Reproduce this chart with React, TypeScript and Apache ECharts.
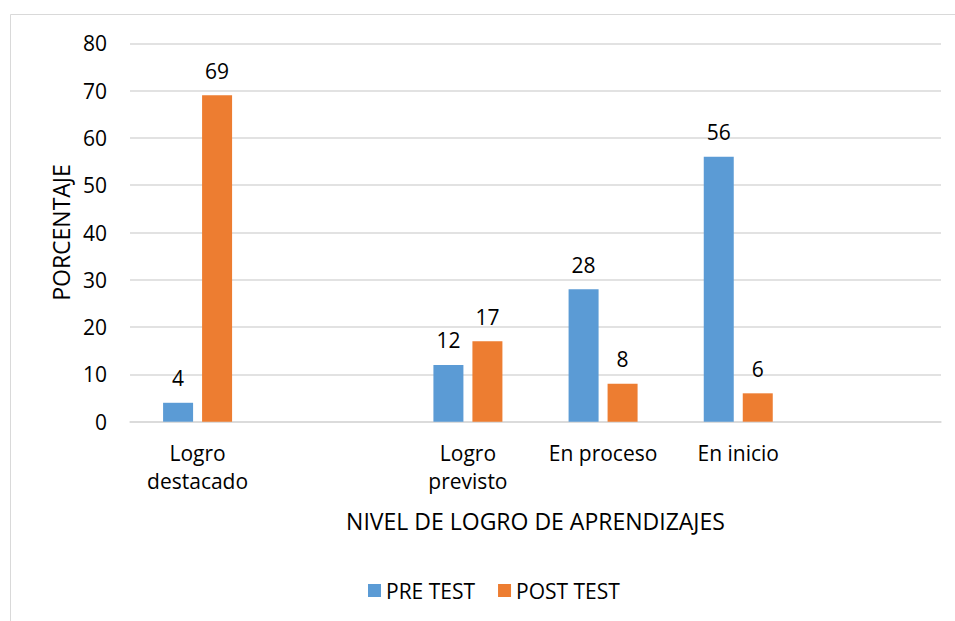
import React, { useEffect, useRef } from "react";
import * as echarts from "echarts";

const categories = ["Logro\ndestacado", "", "Logro\nprevisto", "En proceso", "En inicio", ""];
const preTest = [4, null, 12, 28, 56, null];
const postTest = [69, null, 17, 8, 6, null];
const seriesNames = ["PRE TEST", "POST TEST"];
const yTitle = "PORCENTAJE";
const xTitle = "NIVEL DE LOGRO DE APRENDIZAJES";

const FONT = "'Open Sans', sans-serif";
const TEXT = "#000000";
const FS = 21;
const FT = 23;

export default function App() {
  const ref = useRef<HTMLDivElement>(null);
  useEffect(() => {
    document.body.style.margin = "0";
    const chart = echarts.init(ref.current!, null, { renderer: "svg" });
    const label = {
      show: true,
      position: "top" as const,
      distance: 14,
      color: TEXT,
      fontSize: FS,
      fontFamily: FONT,
    };
    chart.setOption({
      animation: false,
      backgroundColor: "#ffffff",
      textStyle: { fontFamily: FONT },
      graphic: [
        { type: "line", shape: { x1: 10.5, y1: 14.5, x2: 955, y2: 14.5 }, style: { stroke: "#d9d9d9", lineWidth: 1 } },
        { type: "line", shape: { x1: 10.5, y1: 14.5, x2: 10.5, y2: 621 }, style: { stroke: "#d9d9d9", lineWidth: 1 } },
      ],
      grid: { left: 130, right: 14, top: 43.3, bottom: 199.3, containLabel: false },
      legend: {
        data: seriesNames,
        left: 363,
        top: 575,
        itemWidth: 13,
        itemHeight: 13,
        itemGap: 23,
        icon: "rect",
        textStyle: { color: TEXT, fontSize: FS, fontFamily: FONT },
      },
      xAxis: {
        type: "category",
        data: categories,
        name: xTitle,
        nameLocation: "middle",
        nameGap: 88,
        nameTextStyle: { color: TEXT, fontSize: FT, fontFamily: FONT },
        axisLine: { lineStyle: { color: "#d9d9d9", width: 1.5 } },
        axisTick: { show: false },
        axisLabel: { color: TEXT, fontSize: FS, fontFamily: FONT, margin: 17, lineHeight: 28, interval: 0 },
      },
      yAxis: {
        type: "value",
        min: 0,
        max: 80,
        interval: 10,
        name: yTitle,
        nameLocation: "middle",
        nameGap: 58,
        nameTextStyle: { color: TEXT, fontSize: FT, fontFamily: FONT },
        axisLine: { show: false },
        axisTick: { show: false },
        axisLabel: { color: TEXT, fontSize: FS, fontFamily: FONT, margin: 23 },
        splitLine: { lineStyle: { color: "#d9d9d9", width: 1.5 } },
      },
      series: [
        {
          name: seriesNames[0],
          type: "bar",
          data: preTest,
          barWidth: 30,
          barGap: "30%",
          itemStyle: { color: "#5B9BD5" },
          label,
        },
        {
          name: seriesNames[1],
          type: "bar",
          data: postTest,
          barWidth: 30,
          barGap: "30%",
          itemStyle: { color: "#ED7D31" },
          label,
        },
      ],
    });
    return () => chart.dispose();
  }, []);
  return <div ref={ref} style={{ width: 955, height: 621 }} />;
}
